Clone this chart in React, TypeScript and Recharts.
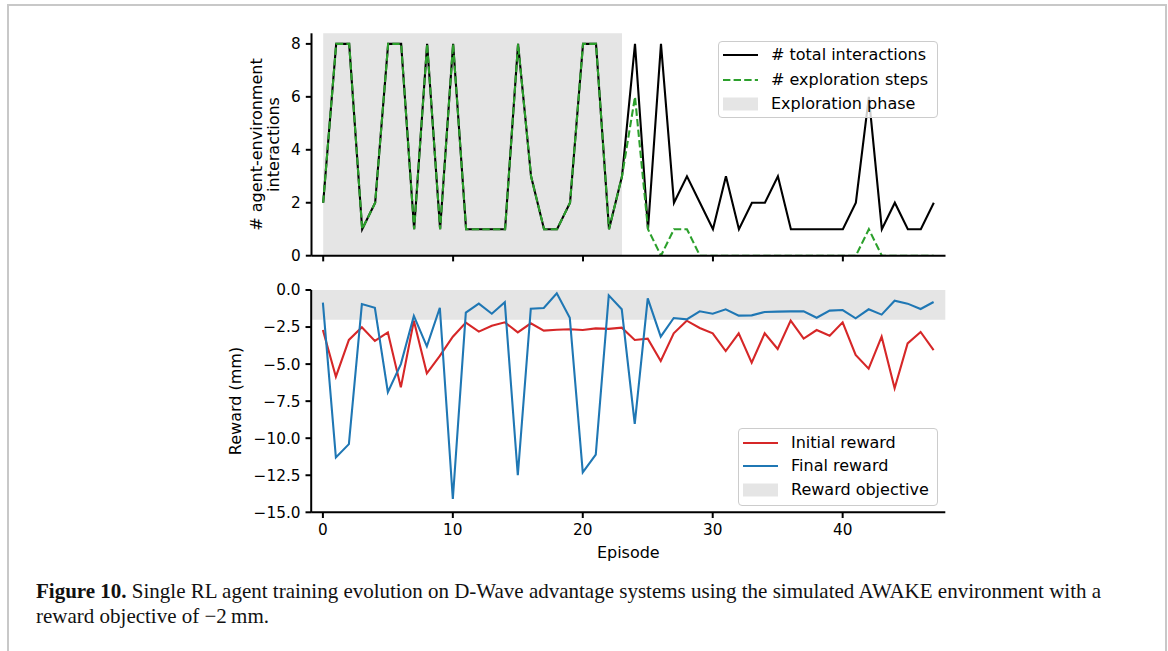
import { ComposedChart, Line, XAxis, YAxis, ReferenceArea, Legend } from "recharts"

const FONT = "'DejaVu Sans', sans-serif"
const BLACK = "#000000"
const GREEN = "#2ca02c"
const RED = "#d62728"
const BLUE = "#1f77b4"
const SHADE = "#e5e5e5"

// ─── data ────────────────────────────────────────────────────────────────────

const totalInteractions = [
  2, 8, 8, 1, 2, 8, 8, 1, 8, 1, 8, 1, 1, 1, 1, 8, 3, 1, 1, 2, 8, 8, 1, 3,
  8, 1, 8, 2, 3, 2, 1, 3, 1, 2, 2, 3, 1, 1, 1, 1, 1, 2, 6, 1, 2, 1, 1, 2,
]
const explorationSteps = [
  2, 8, 8, 1, 2, 8, 8, 1, 8, 1, 8, 1, 1, 1, 1, 8, 3, 1, 1, 2, 8, 8, 1, 3,
  6, 1, 0, 1, 1, 0, 0, 0, 0, 0, 0, 0, 0, 0, 0, 0, 0, 0, 1, 0, 0, 0, 0, 0,
]
const initialReward = [
  -2.7, -5.85, -3.37, -2.52, -3.44, -2.86, -6.57, -2.07, -5.62, -4.45,
  -3.15, -2.2, -2.81, -2.41, -2.18, -2.86, -2.25, -2.74, -2.68, -2.65,
  -2.7, -2.59, -2.62, -2.54, -3.37, -3.28, -4.79, -2.92, -2.07, -2.56,
  -2.92, -4.12, -2.92, -4.9, -2.92, -3.98, -2.07, -3.28, -2.7, -3.08,
  -2.18, -4.38, -5.31, -3.15, -6.63, -3.6, -2.83, -4.05,
]
const finalReward = [
  -0.85, -11.3, -10.4, -0.95, -1.2, -6.9, -5.0, -1.75, -3.8, -1.2,
  -14.1, -1.53, -0.92, -1.6, -0.83, -12.5, -1.26, -1.21, -0.22, -1.87,
  -12.3, -11.1, -0.36, -1.3, -9.04, -0.56, -3.15, -1.89, -1.98, -1.44,
  -1.6, -1.3, -1.73, -1.71, -1.48, -1.46, -1.44, -1.44, -1.87, -1.39,
  -1.35, -1.91, -1.3, -1.66, -0.72, -0.92, -1.28, -0.81,
]

const episodeTicks = [0, 10, 20, 30, 40]
const interactionTicks = [0, 2, 4, 6, 8]
const rewardTicks = [0, -2.5, -5, -7.5, -10, -12.5, -15]

const explorationEnd = 23
const rewardObjective = -2

const X_DOMAIN: [number, number] = [-0.9, 47.9]
const TOP_Y_DOMAIN: [number, number] = [0, 8.4]
const BOTTOM_Y_DOMAIN: [number, number] = [-15, 0]

const topData = totalInteractions.map((total, i) => ({
  episode: i,
  total,
  explore: explorationSteps[i],
}))
const bottomData = initialReward.map((initial, i) => ({
  episode: i,
  initial,
  final: finalReward[i],
}))

// ─── shared styles ───────────────────────────────────────────────────────────

const TICK_STYLE = { fontSize: 15.3, fill: BLACK, fontFamily: FONT }
const LINE_STYLE = { stroke: BLACK, strokeWidth: 2 }
const fmtReward = (v: number) => (v < 0 ? "\u2212" + Math.abs(v).toFixed(1) : v.toFixed(1))

interface LegendRow {
  label: string
  kind: "line" | "dash" | "patch"
  color: string
}

function LegendBox({ rows, rowY }: { rows: LegendRow[]; rowY: number[] }) {
  return (
    <div
      style={{
        position: "relative",
        width: "100%",
        height: "100%",
        boxSizing: "border-box",
        border: "1px solid #cccccc",
        borderRadius: 4,
        background: "rgba(255,255,255,0.8)",
        fontFamily: FONT,
        fontSize: 16,
        color: BLACK,
      }}
    >
      {rows.map((r, i) => (
        <div key={r.label}>
          <svg
            width={36}
            height={14}
            style={{ position: "absolute", left: 4, top: rowY[i] - 7 }}
          >
            {r.kind === "patch" ? (
              <rect x={0} y={0.5} width={35} height={13} fill={r.color} />
            ) : (
              <line
                x1={0}
                x2={35}
                y1={7}
                y2={7}
                stroke={r.color}
                strokeWidth={2}
                strokeDasharray={r.kind === "dash" ? "7.4 3.2" : undefined}
              />
            )}
          </svg>
          <span
            style={{
              position: "absolute",
              left: 52,
              top: rowY[i] - 10,
              lineHeight: "20px",
              whiteSpace: "nowrap",
            }}
          >
            {r.label}
          </span>
        </div>
      ))}
    </div>
  )
}

const topLegendRows: LegendRow[] = [
  { label: "# total interactions", kind: "line", color: BLACK },
  { label: "# exploration steps", kind: "dash", color: GREEN },
  { label: "Exploration phase", kind: "patch", color: SHADE },
]
const bottomLegendRows: LegendRow[] = [
  { label: "Initial reward", kind: "line", color: RED },
  { label: "Final reward", kind: "line", color: BLUE },
  { label: "Reward objective", kind: "patch", color: SHADE },
]

// ─── charts ──────────────────────────────────────────────────────────────────

function TopYLabel() {
  const cx = 264.8
  const cy = 144.5
  return (
    <text
      x={cx}
      y={cy}
      transform={`rotate(-90, ${cx}, ${cy})`}
      textAnchor="middle"
      fontFamily={FONT}
      fontSize={16}
      fill={BLACK}
    >
      <tspan x={cx} dy="-0.185em">
        # agent-environment
      </tspan>
      <tspan x={cx} dy="1.1em">
        interactions
      </tspan>
    </text>
  )
}

function BottomYLabel() {
  const cx = 235
  const cy = 131
  return (
    <text
      x={cx}
      y={cy}
      dy="0.35em"
      transform={`rotate(-90, ${cx}, ${cy})`}
      textAnchor="middle"
      fontFamily={FONT}
      fontSize={16}
      fill={BLACK}
    >
      Reward (mm)
    </text>
  )
}

function EpisodeLabel() {
  return (
    <text x={628.3} y={287.8} textAnchor="middle" fontFamily={FONT} fontSize={16} fill={BLACK}>
      Episode
    </text>
  )
}

function InteractionsChart() {
  return (
    <ComposedChart
      width={1168}
      height={280}
      data={topData}
      margin={{ top: 33.3, right: 222.5, bottom: 4.3, left: 271.5 }}
    >
      <ReferenceArea
        x1={0}
        x2={explorationEnd}
        y1={TOP_Y_DOMAIN[0]}
        y2={TOP_Y_DOMAIN[1]}
        fill={SHADE}
        fillOpacity={1}
        stroke="none"
      />
      <XAxis
        dataKey="episode"
        type="number"
        domain={X_DOMAIN}
        ticks={episodeTicks}
        allowDataOverflow
        height={20}
        tick={() => <g />}
        tickSize={5.7}
        axisLine={LINE_STYLE}
        tickLine={LINE_STYLE}
      />
      <XAxis
        xAxisId="top"
        orientation="top"
        type="number"
        domain={X_DOMAIN}
        allowDataOverflow
        height={0}
        tick={false}
        tickLine={false}
        axisLine={LINE_STYLE}
      />
      <YAxis
        type="number"
        domain={TOP_Y_DOMAIN}
        ticks={interactionTicks}
        allowDataOverflow
        width={40}
        tickSize={5.7}
        tickMargin={5}
        tick={TICK_STYLE}
        axisLine={LINE_STYLE}
        tickLine={LINE_STYLE}
        label={{ content: () => <TopYLabel /> }}
      />
      <YAxis
        yAxisId="right"
        orientation="right"
        type="number"
        domain={TOP_Y_DOMAIN}
        allowDataOverflow
        width={0}
        tick={false}
        tickLine={false}
        axisLine={LINE_STYLE}
      />
      <Line
        type="linear"
        dataKey="total"
        stroke={BLACK}
        strokeWidth={2.1}
        dot={false}
        isAnimationActive={false}
      />
      <Line
        type="linear"
        dataKey="explore"
        stroke={GREEN}
        strokeWidth={2.1}
        strokeDasharray="7.4 3.2"
        dot={false}
        isAnimationActive={false}
      />
      <Legend
        layout="vertical"
        align="center"
        verticalAlign="middle"
        width={220}
        height={77}
        wrapperStyle={{ left: 718, top: 41, width: 220, height: 77 }}
        content={() => <LegendBox rows={topLegendRows} rowY={[13.3, 38, 61.7]} />}
      />
    </ComposedChart>
  )
}

function RewardChart() {
  return (
    <ComposedChart
      width={1168}
      height={330}
      data={bottomData}
      margin={{ top: 20, right: 222.7, bottom: 27.7, left: 251.2 }}
    >
      <ReferenceArea
        x1={X_DOMAIN[0]}
        x2={X_DOMAIN[1]}
        y1={rewardObjective}
        y2={0}
        fill={SHADE}
        fillOpacity={1}
        stroke="none"
      />
      <XAxis
        dataKey="episode"
        type="number"
        domain={X_DOMAIN}
        ticks={episodeTicks}
        allowDataOverflow
        height={60}
        tickSize={5.7}
        tickMargin={6.5}
        tick={TICK_STYLE}
        axisLine={LINE_STYLE}
        tickLine={LINE_STYLE}
        label={{ content: () => <EpisodeLabel /> }}
      />
      <XAxis
        xAxisId="top"
        orientation="top"
        type="number"
        domain={X_DOMAIN}
        allowDataOverflow
        height={0}
        tick={false}
        tickLine={false}
        axisLine={LINE_STYLE}
      />
      <YAxis
        type="number"
        domain={BOTTOM_Y_DOMAIN}
        ticks={rewardTicks}
        allowDataOverflow
        width={60}
        tickSize={5.7}
        tickMargin={5}
        tick={TICK_STYLE}
        tickFormatter={fmtReward}
        axisLine={LINE_STYLE}
        tickLine={LINE_STYLE}
        label={{ content: () => <BottomYLabel /> }}
      />
      <YAxis
        yAxisId="right"
        orientation="right"
        type="number"
        domain={BOTTOM_Y_DOMAIN}
        allowDataOverflow
        width={0}
        tick={false}
        tickLine={false}
        axisLine={LINE_STYLE}
      />
      <Line
        type="linear"
        dataKey="initial"
        stroke={RED}
        strokeWidth={2.1}
        dot={false}
        isAnimationActive={false}
      />
      <Line
        type="linear"
        dataKey="final"
        stroke={BLUE}
        strokeWidth={2.1}
        dot={false}
        isAnimationActive={false}
      />
      <Legend
        layout="vertical"
        align="center"
        verticalAlign="middle"
        width={200}
        height={78}
        wrapperStyle={{ left: 738, top: 157.7, width: 200, height: 78 }}
        content={() => <LegendBox rows={bottomLegendRows} rowY={[14, 37.3, 61.3]} />}
      />
    </ComposedChart>
  )
}

const CAPTION_STYLE = {
  position: "absolute" as const,
  left: 36,
  fontFamily: "'Liberation Serif', serif",
  fontSize: 21,
  lineHeight: "25px",
  color: "#111",
  whiteSpace: "nowrap" as const,
}

export default function App() {
  return (
    <div style={{ position: "relative", width: 1168, height: 651, overflow: "hidden", background: "#fff" }}>
      <style>{"body{margin:0}"}</style>
      <div
        style={{
          position: "absolute",
          left: 7,
          top: 4,
          width: 1156,
          height: 700,
          border: "2px solid #c8c8c8",
        }}
      />
      <div style={{ position: "absolute", left: 0, top: 0 }}>
        <InteractionsChart />
      </div>
      <div style={{ position: "absolute", left: 0, top: 270 }}>
        <RewardChart />
      </div>
      <div style={{ ...CAPTION_STYLE, top: 579 }}>
        <b>Figure 10.</b>
        {" Single RL agent training evolution on D-Wave advantage systems using the simulated AWAKE environment with a"}
      </div>
      <div style={{ ...CAPTION_STYLE, top: 604 }}>{"reward objective of \u22122\u2009mm."}</div>
    </div>
  )
}
